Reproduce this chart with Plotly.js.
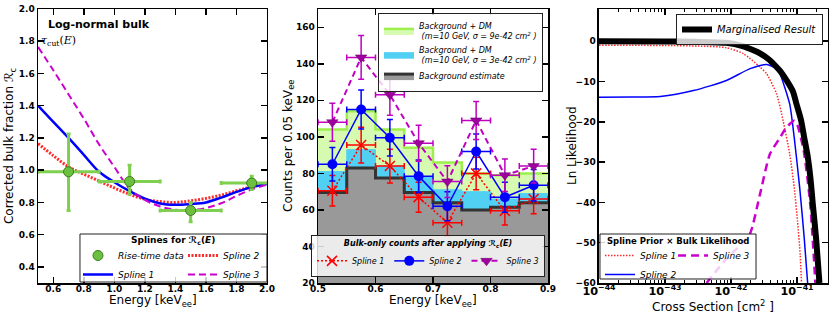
<!DOCTYPE html>
<html><head><meta charset="utf-8">
<script src="https://cdn.plot.ly/plotly-3.0.1.min.js"></script>
<style>html,body{margin:0;padding:0;background:#fff}</style>
</head><body><div id="chart" style="width:834px;height:318px"></div>
<script>
// ---------- Panel 1: corrected bulk fraction ----------
const riseE = [0.7, 1.1, 1.5, 1.9];
const riseR = [0.99, 0.93, 0.75, 0.92];
const riseErrUp = [0.235, 0.10, 0.05, 0.043];
const riseErrDn = [0.24, 0.08, 0.07, 0.04];
const riseEErr = [0.2, 0.2, 0.2, 0.2];
const splineE = [0.5, 0.6, 0.7, 0.8, 0.9, 1.0, 1.1, 1.2, 1.3, 1.4, 1.5, 1.6, 1.7, 1.8, 1.9, 2.0];
const spline1R = [1.40, 1.30, 1.20, 1.095, 0.99, 0.925, 0.87, 0.823, 0.793, 0.785, 0.79, 0.80, 0.83, 0.865, 0.895, 0.915];
const spline2R = [1.165, 1.09, 1.02, 0.975, 0.933, 0.89, 0.85, 0.82, 0.805, 0.80, 0.81, 0.825, 0.845, 0.872, 0.897, 0.92];
const spline3R = [1.765, 1.62, 1.47, 1.32, 1.16, 1.02, 0.885, 0.815, 0.775, 0.755, 0.752, 0.765, 0.795, 0.84, 0.88, 0.91];

// ---------- Panel 2: counts ----------
const binEdges = [0.5, 0.55, 0.6, 0.65, 0.7, 0.75, 0.8, 0.85, 0.9];
const binCenters = [0.525, 0.575, 0.625, 0.675, 0.725, 0.775, 0.825, 0.875];
const bgCounts = [69.5, 83, 77.5, 69.5, 64, 60, 61.5, 64];
const dm3Counts = [81, 93, 84, 78, 71, 70, 66, 69];
const dm9Counts = [104, 114, 104, 94, 86, 80, 79, 80];
const binHalfWidth = [0.025, 0.025, 0.025, 0.025, 0.025, 0.025, 0.025, 0.025];
const s1Counts = [70.5, 95.5, 84, 67, 53, 80, 59.5, 66];
const s1Err = [8.4, 9.8, 9.2, 8.2, 7.3, 8.9, 7.7, 8.1];
const s2Counts = [85, 115, 99.5, 78.5, 62, 92, 67, 73.5];
const s2Err = [9.2, 10.7, 10.0, 8.9, 7.9, 9.6, 8.2, 8.6];
const s3Counts = [108, 143.5, 123, 96.5, 75.5, 109, 79, 84];
const s3Err = [10.4, 12.0, 11.1, 9.8, 8.7, 10.4, 8.9, 9.2];

// ---------- Panel 3: likelihood ----------
const margX = [1e-44, 1e-43, 3e-43, 8.5e-43, 1.5e-42, 2.19e-42, 2.75e-42, 3.8e-42, 4.9e-42, 5.5e-42, 7e-42, 8.7e-42, 9.8e-42, 1.15e-41, 1.29e-41, 1.45e-41, 1.6e-41, 1.74e-41, 1.95e-41, 2.19e-41];
const margY = [0, -0.05, -0.15, -0.4, -1.2, -2.25, -3.0, -4.6, -6.4, -7.3, -9.8, -12.5, -15.5, -19.5, -24, -28.5, -34, -40.5, -49, -60];
const l1X = [1e-44, 1e-43, 3.16e-43, 8.5e-43, 1.55e-42, 2.75e-42, 3.47e-42, 4.9e-42, 6.17e-42, 7.76e-42, 9.1e-42, 1.02e-41, 1.12e-41, 1.17e-41];
const l1Y = [-1.0, -1.05, -1.2, -1.6, -3.1, -6.4, -8.1, -13, -19.75, -28, -36.4, -44.75, -53, -60];
const l2X = [1e-44, 3.16e-44, 8.5e-44, 2.7e-43, 8.5e-43, 1.95e-42, 3.47e-42, 4.9e-42, 5.5e-42, 7.76e-42, 9.1e-42, 1.1e-41, 1.29e-41, 1.45e-41];
const l2Y = [-13.9, -13.85, -13.7, -12.25, -9.75, -6.8, -5.8, -6.8, -8.0, -15.6, -24, -36.4, -49, -60];
const l3X = [4.27e-43, 8.5e-43, 1.41e-42, 1.95e-42, 2.75e-42, 3.89e-42, 5.5e-42, 6.9e-42, 9.1e-42, 1e-41, 1.26e-41, 1.58e-41, 1.9e-41];
const l3Y = [-60, -54, -50.5, -47.7, -38, -28, -24, -21.4, -19.75, -20.5, -27, -40, -60];

function stepY(a) { return a.concat([a[a.length - 1]]); }

const FONT = 'DejaVu Sans';
const legFont = {family: FONT, size: 9, style: 'italic', color: '#000'};
const legFont8 = {family: FONT, size: 8, style: 'italic', color: '#000'};
const legTitleFont = {family: FONT, size: 9, weight: 'bold', color: '#000'};
const legBox = {bgcolor: 'rgba(255,255,255,0.8)', bordercolor: '#222', borderwidth: 1, font: legFont, itemwidth: 30};
const legCol = {bgcolor: 'rgba(0,0,0,0)', borderwidth: 0, font: legFont, itemwidth: 30, orientation: 'v', xanchor: 'left', yanchor: 'top'};

const traces = [
  // panel 1
  {x: splineE, y: spline2R, xaxis: 'x', yaxis: 'y', mode: 'lines', name: 'Spline 2', legend: 'legend6', legendrank: 1,
   line: {color: '#ff2a2a', width: 3, dash: '2px,1.5px', shape: 'spline'}},
  {x: splineE, y: spline1R, xaxis: 'x', yaxis: 'y', mode: 'lines', name: 'Spline 1', legend: 'legend', legendrank: 2,
   line: {color: '#0000ff', width: 2.5, shape: 'spline'}},
  {x: splineE, y: spline3R, xaxis: 'x', yaxis: 'y', mode: 'lines', name: 'Spline 3', legend: 'legend6', legendrank: 2,
   line: {color: '#cc00cc', width: 2, dash: '7px,4px', shape: 'spline'}},
  {x: riseE, y: riseR, xaxis: 'x', yaxis: 'y', mode: 'markers', name: 'Rise-time data', legend: 'legend', legendrank: 1,
   marker: {size: 10, color: '#6cc040', line: {color: '#3d7a1f', width: 1}},
   error_x: {type: 'data', array: riseEErr, color: '#7fd050', thickness: 3, width: 2},
   error_y: {type: 'data', symmetric: false, array: riseErrUp, arrayminus: riseErrDn, color: '#7fd050', thickness: 3, width: 2}},

  // panel 2 histograms
  {x: binEdges, y: stepY(dm9Counts), xaxis: 'x2', yaxis: 'y2', mode: 'lines', fill: 'tozeroy', fillcolor: '#d6fbb0',
   line: {shape: 'hv', color: '#9df04c', width: 2.5}, legend: 'legend2',
   name: 'Background + DM<br> (m=10 GeV, σ = 9e-42 cm<sup>2</sup> )'},
  {x: binEdges, y: stepY(dm3Counts), xaxis: 'x2', yaxis: 'y2', mode: 'lines', fill: 'tozeroy', fillcolor: '#52d0f3',
   line: {shape: 'hv', color: '#52d0f3', width: 1}, legend: 'legend2',
   name: 'Background + DM<br> (m=10 GeV, σ = 3e-42 cm<sup>2</sup> )'},
  {x: binEdges, y: stepY(bgCounts), xaxis: 'x2', yaxis: 'y2', mode: 'lines', fill: 'tozeroy', fillcolor: '#999999',
   line: {shape: 'hv', color: '#333333', width: 3}, legend: 'legend2', name: 'Background estimate'},

  // panel 2 points
  {x: binCenters, y: s1Counts, xaxis: 'x2', yaxis: 'y2', mode: 'lines+markers', name: 'Spline 1', legend: 'legend3',
   line: {color: '#ff0000', width: 1.5, dash: '2px,2px'},
   marker: {symbol: 'x-thin', size: 10, line: {color: '#ff0000', width: 1.5}, color: '#ff0000'},
   error_x: {type: 'data', array: binHalfWidth, color: '#ff0000', thickness: 1.5, width: 3},
   error_y: {type: 'data', array: s1Err, color: '#ff0000', thickness: 1.5, width: 3}},
  {x: binCenters, y: s2Counts, xaxis: 'x2', yaxis: 'y2', mode: 'lines+markers', name: 'Spline 2', legend: 'legend3',
   line: {color: '#0000ff', width: 1.5},
   marker: {symbol: 'circle', size: 10, color: '#0000ff'},
   error_x: {type: 'data', array: binHalfWidth, color: '#0000ff', thickness: 1.5, width: 3},
   error_y: {type: 'data', array: s2Err, color: '#0000ff', thickness: 1.5, width: 3}},
  {x: binCenters, y: s3Counts, xaxis: 'x2', yaxis: 'y2', mode: 'lines+markers', name: 'Spline 3', legend: 'legend3',
   line: {color: '#bf00bf', width: 2, dash: '6px,4px'},
   marker: {symbol: 'triangle-down', size: 10, color: '#a000a0', line: {color: '#600060', width: 0.5}},
   error_x: {type: 'data', array: binHalfWidth, color: '#bf00bf', thickness: 1.5, width: 3},
   error_y: {type: 'data', array: s3Err, color: '#bf00bf', thickness: 1.5, width: 3}},

  // panel 3
  {x: l1X, y: l1Y, xaxis: 'x3', yaxis: 'y3', mode: 'lines', name: 'Spline 1', legend: 'legend5', legendrank: 1,
   line: {color: '#ff2a2a', width: 1.5, dash: '1.5px,1.5px', shape: 'spline', smoothing: 0.6}},
  {x: l2X, y: l2Y, xaxis: 'x3', yaxis: 'y3', mode: 'lines', name: 'Spline 2', legend: 'legend5', legendrank: 2,
   line: {color: '#0000ff', width: 1.5, shape: 'spline', smoothing: 0.6}},
  {x: l3X, y: l3Y, xaxis: 'x3', yaxis: 'y3', mode: 'lines', name: 'Spline 3', legend: 'legend7',
   line: {color: '#cc00cc', width: 2.5, dash: '8px,5px', shape: 'spline', smoothing: 0.6}},
  {x: margX, y: margY, xaxis: 'x3', yaxis: 'y3', mode: 'lines', name: 'Marginalised Result', legend: 'legend4',
   line: {color: '#000000', width: 6, shape: 'spline', smoothing: 0.6}}
];

const axBase = {
  showline: true, linecolor: '#000', linewidth: 1.5, mirror: 'allticks',
  ticks: 'inside', ticklen: 6, tickwidth: 1.5, tickcolor: '#000',
  showgrid: false, zeroline: false, automargin: false,
  tickfont: {family: FONT, size: 9, weight: 'bold', color: '#000'}
};
const titleFont = {family: FONT, size: 12, color: '#000'};
function ax(extra) { return Object.assign({}, axBase, extra); }
function xTitle(text, x, y) {
  return {xref: 'paper', yref: 'paper', x: x, y: y, xanchor: 'center', yanchor: 'middle', showarrow: false, text: text, font: titleFont};
}
function yTitle(text, x) {
  return {xref: 'paper', yref: 'paper', x: x, y: 0.5, xanchor: 'center', yanchor: 'middle', showarrow: false, textangle: -90, text: text, font: titleFont};
}
function frame(x0, x1, y0, y1) {
  return {type: 'rect', xref: 'paper', yref: 'paper', x0: x0, x1: x1, y0: y0, y1: y1, layer: 'above',
          fillcolor: 'rgba(255,255,255,0.8)', line: {color: '#222', width: 1}};
}

const layout = {
  width: 834, height: 318,
  margin: {l: 0, r: 0, t: 9, b: 35},
  paper_bgcolor: '#fff', plot_bgcolor: '#fff',
  hovermode: false,
  xaxis: ax({domain: [0.0456, 0.3201], range: [0.5, 2.0], tick0: 0, dtick: 0.2, tickformat: '.1f', anchor: 'y', ticklabelstandoff: -3}),
  yaxis: ax({domain: [0, 1], range: [0.3, 2.0], tick0: 0, dtick: 0.2, tickformat: '.1f', anchor: 'x'}),
  xaxis2: ax({domain: [0.3813, 0.6571], range: [0.5, 0.9], tick0: 0, dtick: 0.1, tickformat: '.1f', anchor: 'y2', ticklabelstandoff: -3}),
  yaxis2: ax({domain: [0, 1], range: [20, 170], tick0: 0, dtick: 20, anchor: 'x2'}),
  xaxis3: ax({domain: [0.7182, 0.9928], type: 'log', range: [-44, -40.53], dtick: 1, exponentformat: 'power', anchor: 'y3', ticklabelstandoff: -3,
    minor: {ticks: 'inside', ticklen: 3, tickwidth: 1, tickcolor: '#000', showgrid: false}}),
  yaxis3: ax({domain: [0, 1], range: [-60, 8], tick0: 0, dtick: 10, anchor: 'x3'}),
  // panel 1 legend: two columns
  legend: Object.assign({}, legCol, {x: 0.0935, y: 0.1533}),
  legend6: Object.assign({}, legCol, {x: 0.2194, y: 0.1533}),
  legend2: Object.assign({}, legBox, {orientation: 'v', x: 0.6511, xanchor: 'right', y: 0.9854, yanchor: 'top', font: legFont8}),
  legend3: Object.assign({}, legBox, {orientation: 'h', x: 0.6535, xanchor: 'right', y: 0.022, yanchor: 'bottom', font: legFont8,
    title: {text: 'Bulk-only counts after applying ℛ<sub>c</sub>(<i>E</i>)', side: 'top center',
            font: {family: FONT, size: 8, weight: 'bold', color: '#000'}}}),
  legend4: Object.assign({}, legBox, {orientation: 'v', x: 0.9868, xanchor: 'right', y: 0.9818, yanchor: 'top',
    font: {family: FONT, size: 10, style: 'italic', color: '#000'}}),
  // panel 3 lower legend: two columns
  legend5: Object.assign({}, legCol, {x: 0.7194, y: 0.1533}),
  legend7: Object.assign({}, legCol, {x: 0.807, y: 0.1533}),
  shapes: [
    frame(0.0959, 0.3201, 0.0036, 0.1788),
    frame(0.7194, 0.9065, 0.0146, 0.1788)
  ],
  annotations: [
    {xref: 'paper', yref: 'paper', x: 0.0552, y: 0.945, xanchor: 'left', yanchor: 'middle', showarrow: false,
     text: 'Log-normal bulk', font: {family: FONT, size: 11, weight: 'bold', color: '#000'}},
    {xref: 'paper', yref: 'paper', x: 0.047, y: 0.885, xanchor: 'left', yanchor: 'middle', showarrow: false,
     text: '<i>τ</i><sub>cut</sub>(<i>E</i>)', font: {family: 'DejaVu Serif', size: 11, color: '#000'}},
    {xref: 'paper', yref: 'paper', x: 0.208, y: 0.1533, xanchor: 'center', yanchor: 'middle', showarrow: false,
     text: 'Splines for ℛ<sub>c</sub>(<i>E</i>)', font: legTitleFont},
    {xref: 'paper', yref: 'paper', x: 0.813, y: 0.1533, xanchor: 'center', yanchor: 'middle', showarrow: false,
     text: 'Spline Prior × Bulk Likelihood', font: {family: FONT, size: 8.5, weight: 'bold', color: '#000'}},
    xTitle('Energy [keV<sub>ee</sub>]', 0.1829, -0.0657),
    xTitle('Energy [keV<sub>ee</sub>]', 0.5192, -0.0657),
    xTitle('Cross Section [cm<sup>2</sup> ]', 0.8555, -0.084),
    yTitle('Corrected bulk fraction ℛ<sub>c</sub>', 0.012),
    yTitle('Counts per 0.05 keV<sub>ee</sub>', 0.3465),
    yTitle('Ln Likelihood', 0.6859)
  ]
};

Plotly.newPlot('chart', traces, layout, {displayModeBar: false, staticPlot: true});
</script>
</body></html>
